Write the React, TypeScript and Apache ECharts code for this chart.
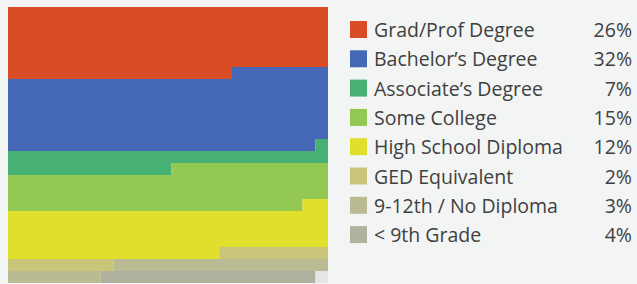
import React, { useEffect, useRef } from "react";
import * as echarts from "echarts";

const categories = [
  "Grad/Prof Degree",
  "Bachelor’s Degree",
  "Associate’s Degree",
  "Some College",
  "High School Diploma",
  "GED Equivalent",
  "9-12th / No Diploma",
  "< 9th Grade",
];
const legendPct = [26, 32, 7, 15, 12, 2, 3, 4];
// amount of the fill grid each group covers, in rows
const filledRows = [5.7, 6.26, 1.55, 3.41, 3.74, 0.67, 0.96, 0.67];
const colors = ["#d94d26", "#4568b6", "#47b174", "#93c853", "#e0df2c", "#c9c679", "#bbbb93", "#b0b29e"];
const ROWS = 23;

export default function App() {
  const ref = useRef<HTMLDivElement>(null);
  useEffect(() => {
    if (!ref.current) return;
    const chart = echarts.init(ref.current, null, { renderer: "svg" });
    const rowLabels = Array.from({ length: ROWS }, (_, i) => String(i + 1));
    let start = 0;
    const series = categories.map((name, i) => {
      const end = start + filledRows[i];
      const data = rowLabels.map((_, r) => {
        const v = Math.max(0, Math.min(end, r + 1) - Math.max(start, r));
        return +(v * 100).toFixed(3);
      });
      start = end;
      return {
        name,
        type: "bar",
        stack: "fill",
        data,
        barWidth: "100%",
        barCategoryGap: "0%",
        itemStyle: { color: colors[i] },
        emphasis: { disabled: true },
      };
    });
    const pctMap: Record<string, number> = {};
    categories.forEach((c, i) => (pctMap[c] = legendPct[i]));
    const txt = { fontSize: 19.5, color: "#404040", fontFamily: "Open Sans", lineHeight: 17 };
    chart.setOption({
      animation: false,
      backgroundColor: "#f3f5f4",
      grid: {
        left: 8,
        top: 7,
        width: 320,
        height: 276,
        show: true,
        backgroundColor: "#e4e6e5",
        borderWidth: 0,
      },
      xAxis: { type: "value", min: 0, max: 100, show: false },
      yAxis: { type: "category", data: rowLabels, inverse: true, show: false },
      legend: {
        orient: "vertical",
        left: 350,
        top: 19.5,
        padding: 0,
        itemWidth: 17,
        itemHeight: 17,
        itemGap: 9.3,
        icon: "rect",
        selectedMode: false,
        data: categories,
        formatter: (name: string) => `{n|${name}}{p|${pctMap[name]}%}`,
        textStyle: {
          rich: {
            n: { ...txt, width: 212, padding: [0, 0, 0, 2] },
            p: { ...txt, width: 46, align: "right" },
          },
        },
      },
      series,
    });
    return () => chart.dispose();
  }, []);
  return (
    <div
      ref={ref}
      style={{ position: "fixed", left: 0, top: 0, width: 637, height: 284 }}
    />
  );
}
